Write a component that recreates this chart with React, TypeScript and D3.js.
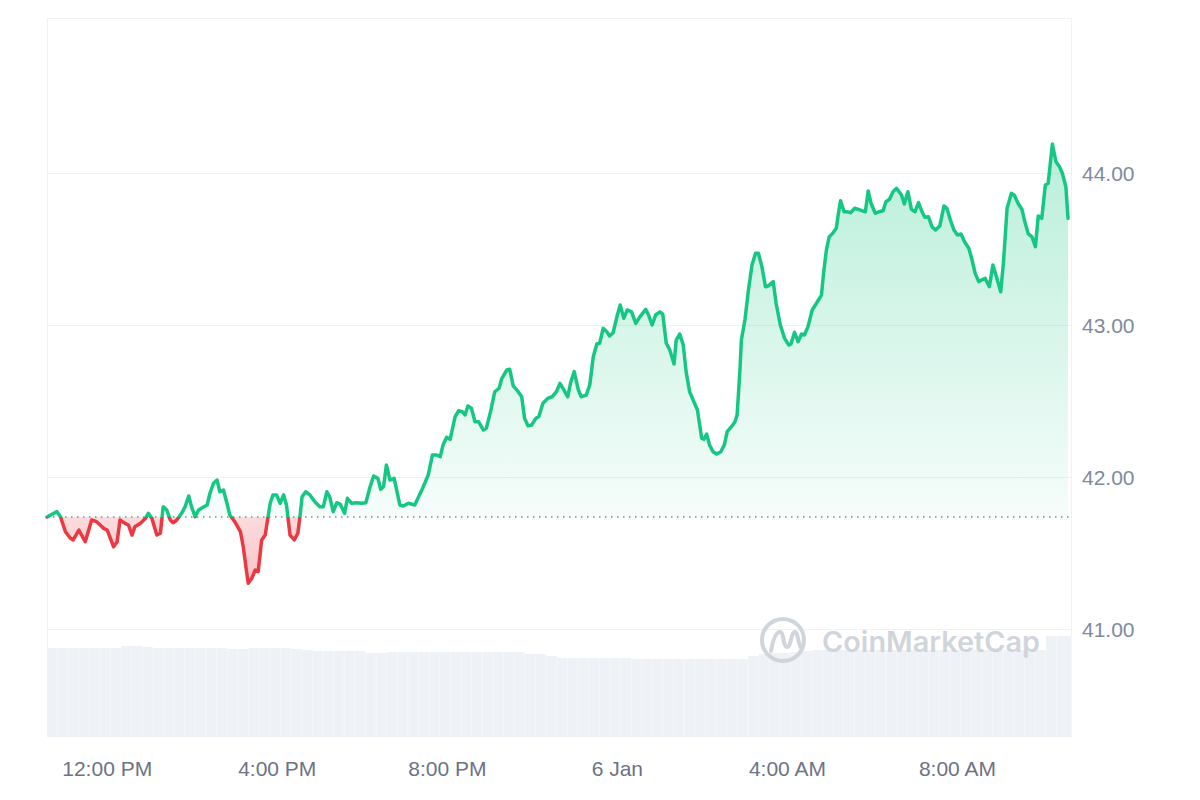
import React from "react";
import * as d3 from "d3";

// Start reference: 12:00 PM, 5 Jan
const START = new Date(2025, 0, 5, 12, 0);

// minutes relative to 12:00 PM
const minuteOffsets = [
  -85,-71,-66,-59,-52,-48,-40,-31,-22,-15,-10,-5,0,9,14,18,25,30,35,39,47,54,58,63,70,75,79,84,89,93,98,105,110,115,119,124,129,134,141,145,150,155,159,164,
  169,173,180,188,192,197,199,204,209,213,218,223,227,230,234,239,244,249,253,258,264,269,272,275,280,286,293,300,305,310,314,319,324,329,335,339,345,352,359,365,371,376,382,386,390,394,399,405,
  413,418,425,434,444,453,459,465,470,474,479,484,491,496,501,505,509,514,519,524,531,535,541,547,553,557,564,568,573,580,585,589,594,599,605,609,615,622,628,634,
  639,643,650,654,659,665,669,676,681,686,691,695,700,705,709,714,720,724,729,734,740,746,752,760,764,769,774,780,784,789,794,800,803,808,813,817,822,828,833,839,842,846,850,855,860,866,871,875,881,886,
  889,893,895,900,905,910,915,919,924,929,933,940,944,950,956,962,965,970,975,980,984,989,995,1001,1008,1011,1015,1019,1024,1029,1032,1035,1040,1044,1049,1055,1060,1065,1070,1074,1078,1084,1089,1095,1099,1104,1109,1114,
  1121,1125,1130,1135,1140,1145,1150,1154,1159,1164,1169,1175,1181,1185,1190,1195,1200,1205,1210,1216,1220,1225,1230,1234,1239,1245,1250,1255,1261,1265,1270,1276,1280,1286,1291,1295,1300,1305,1310,1314,1319,1324,1328,1334,1339,1344,1348,1353,1356,
];

const prices = [
  41.737,41.772,41.739,41.640,41.597,41.586,41.651,41.574,41.717,41.706,41.684,41.662,41.651,41.541,41.574,41.717,41.695,41.684,41.618,41.673,41.695,41.728,41.761,41.728,41.618,41.630,41.805,41.783,41.717,41.699,41.717,41.761,41.805,41.875,41.805,41.739,41.783,41.798,41.816,41.893,41.959,41.980,41.903,41.914,
  41.827,41.750,41.706,41.640,41.541,41.366,41.301,41.334,41.388,41.377,41.586,41.618,41.739,41.827,41.882,41.882,41.827,41.882,41.816,41.618,41.586,41.630,41.739,41.870,41.903,41.882,41.837,41.805,41.805,41.903,41.870,41.772,41.831,41.820,41.761,41.860,41.827,41.831,41.827,41.831,41.936,42.007,41.991,41.919,41.936,42.079,41.980,41.991,
  41.816,41.809,41.827,41.816,41.914,42.013,42.145,42.145,42.134,42.211,42.261,42.248,42.397,42.436,42.430,42.408,42.467,42.452,42.364,42.364,42.309,42.320,42.430,42.561,42.584,42.649,42.704,42.709,42.599,42.561,42.528,42.386,42.336,42.342,42.386,42.397,42.485,42.518,42.528,42.561,
  42.616,42.584,42.528,42.620,42.693,42.572,42.528,42.539,42.605,42.791,42.875,42.880,42.978,42.956,42.928,42.949,43.066,43.132,43.044,43.099,43.087,43.011,43.055,43.103,43.066,43.000,43.066,43.087,43.072,42.880,42.836,42.743,42.901,42.941,42.868,42.693,42.561,42.495,42.441,42.255,42.248,42.283,42.211,42.166,42.151,42.166,42.211,42.298,42.331,42.364,
  42.408,42.704,42.901,43.033,43.230,43.395,43.472,43.472,43.384,43.252,43.257,43.285,43.143,43.000,42.912,42.868,42.875,42.952,42.890,42.941,42.934,42.989,43.099,43.143,43.197,43.340,43.493,43.581,43.603,43.636,43.735,43.818,43.745,43.745,43.739,43.768,43.761,43.752,43.745,43.882,43.801,43.735,43.745,43.752,43.811,43.827,43.877,43.899,
  43.855,43.796,43.877,43.761,43.745,43.805,43.745,43.709,43.712,43.647,43.625,43.651,43.783,43.768,43.691,43.625,43.592,43.599,43.548,43.505,43.439,43.340,43.285,43.296,43.307,43.252,43.395,43.318,43.219,43.416,43.768,43.866,43.855,43.796,43.761,43.680,43.599,43.581,43.515,43.717,43.702,43.921,43.932,44.191,44.074,44.041,43.998,43.910,43.702,
];

// volume bars: one per 15 minutes starting at -85 min (arbitrary units)
const volumeStartMinute = -85;
const volumeStepMinutes = 15;
const volumes = [
  89,89,89,89,89,89,89,91,91,90,89,89,89,89,89,89,89,88,88,89,89,89,89,88,87,86,86,86,86,86,84,84,
  85,85,85,85,85,85,85,85,85,85,85,85,85,83,83,81,79,79,79,79,79,79,79,78,78,78,78,78,78,78,78,78,
  78,78,81,83,84,84,85,86,87,87,87,87,87,87,87,87,87,87,87,87,87,87,87,87,87,87,87,87,87,87,101,101,
];

const yTicks = [41, 42, 43, 44];
const xTickHours = 4;

const FONT = "'Liberation Sans', Arial, sans-serif";

export default function App() {
  const W = 1200;
  const H = 800;
  const plotLeft = 47;
  const plotRight = 1071;
  const plotTop = 18;
  const plotBottom = 737;

  const data = minuteOffsets.map((m, i) => ({
    t: d3.timeMinute.offset(START, m),
    v: prices[i],
  }));

  const x = d3
    .scaleTime()
    .domain(d3.extent(data, (d) => d.t) as [Date, Date])
    .range([47, 1068]);
  const y = d3.scaleLinear().domain([41, 44]).range([629, 173]);
  const vScale = d3.scaleLinear().domain([0, 100]).range([plotBottom, plotBottom - 100]);

  const base = prices[0];
  const by = y(base);

  const line = d3
    .line<{ t: Date; v: number }>()
    .x((d) => x(d.t))
    .y((d) => y(d.v));
  const area = d3
    .area<{ t: Date; v: number }>()
    .x((d) => x(d.t))
    .y0(by)
    .y1((d) => y(d.v));

  const linePath = line(data) || "";
  const areaPath = area(data) || "";

  const xTicks = x.ticks(d3.timeHour.every(xTickHours)!);
  const fmtTick = (d: Date) =>
    d.getHours() === 0 ? d3.timeFormat("%-d %b")(d) : d3.timeFormat("%-I:%M %p")(d);

  const volBars = volumes.map((v, i) => {
    const t0 = d3.timeMinute.offset(START, volumeStartMinute + i * volumeStepMinutes);
    const t1 = d3.timeMinute.offset(START, volumeStartMinute + (i + 1) * volumeStepMinutes);
    const last = i === volumes.length - 1;
    return { x0: x(t0), x1: last ? plotRight + 1 : Math.min(x(t1), plotRight), v };
  });

  const gridColor = "#eff2f5";

  return (
    <svg
      width={W}
      height={H}
      style={{ position: "absolute", left: 0, top: 0, display: "block", background: "#fff" }}
      fontFamily={FONT}
    >
      <defs>
        <linearGradient id="gFill" gradientUnits="userSpaceOnUse" x1="0" y1={y(44.2)} x2="0" y2={by}>
          <stop offset="0" stopColor="#16c784" stopOpacity={0.3} />
          <stop offset="1" stopColor="#16c784" stopOpacity={0.04} />
        </linearGradient>
        <linearGradient id="rFill" gradientUnits="userSpaceOnUse" x1="0" y1={by} x2="0" y2={y(41.3)}>
          <stop offset="0" stopColor="#ea3943" stopOpacity={0.18} />
          <stop offset="1" stopColor="#ea3943" stopOpacity={0.3} />
        </linearGradient>
        <clipPath id="above">
          <rect x={0} y={0} width={W} height={by} />
        </clipPath>
        <clipPath id="below">
          <rect x={0} y={by} width={W} height={H - by} />
        </clipPath>
      </defs>

      {/* frame */}
      <line x1={plotLeft + 0.5} x2={plotLeft + 0.5} y1={plotTop} y2={plotBottom} stroke={gridColor} />
      <line x1={plotRight + 0.5} x2={plotRight + 0.5} y1={plotTop} y2={plotBottom} stroke={gridColor} />
      <line x1={plotLeft} x2={plotRight} y1={plotTop + 0.5} y2={plotTop + 0.5} stroke={gridColor} />

      {/* grid */}
      {yTicks.map((t) => (
        <line key={t} x1={plotLeft} x2={plotRight} y1={Math.round(y(t)) + 0.5} y2={Math.round(y(t)) + 0.5} stroke={gridColor} />
      ))}

      {/* volume */}
      <g>
        {volBars.map((b, i) => (
          <rect
            key={"bg" + i}
            x={b.x0}
            y={vScale(b.v)}
            width={Math.max(0, b.x1 - b.x0)}
            height={plotBottom - vScale(b.v)}
            fill="#f4f6f9"
          />
        ))}
        {volBars.map((b, i) => (
          <rect
            key={i}
            x={b.x0}
            y={vScale(b.v)}
            width={Math.max(0, b.x1 - b.x0 - 1)}
            height={plotBottom - vScale(b.v)}
            fill="#eef1f5"
          />
        ))}
      </g>

      {/* watermark */}
      <g opacity={0.9}>
        <circle cx={783} cy={640} r={21} fill="none" stroke="#ccd1d9" strokeWidth={4} />
        <path
          d="M771,651 C773,640 776,632 780,632 C784,632 783,647 787,647 C791,647 791,632 795,632 C798,632 798,645 802,649"
          fill="none"
          stroke="#ccd1d9"
          strokeWidth={4}
          strokeLinecap="round"
        />
        <text
          x={822}
          y={652}
          fontSize={28}
          fontWeight={600}
          fontFamily="Inter, 'Noto Sans', sans-serif"
          fill="#ccd1d9"
          textLength={218}
          lengthAdjust="spacingAndGlyphs"
        >
          CoinMarketCap
        </text>
      </g>

      {/* areas */}
      <path d={areaPath} fill="url(#gFill)" clipPath="url(#above)" />
      <path d={areaPath} fill="url(#rFill)" clipPath="url(#below)" />

      {/* baseline */}
      <line
        x1={plotLeft}
        x2={plotRight}
        y1={by}
        y2={by}
        stroke="#808a9d"
        strokeWidth={1.5}
        strokeDasharray="1.5,4.5"
      />

      {/* lines */}
      <path d={linePath} fill="none" stroke="#16c784" strokeWidth={3.5} strokeLinejoin="round" strokeLinecap="round" clipPath="url(#above)" />
      <path d={linePath} fill="none" stroke="#ea3943" strokeWidth={3.5} strokeLinejoin="round" strokeLinecap="round" clipPath="url(#below)" />

      {/* y axis labels */}
      {yTicks.map((t) => (
        <text key={t} x={1082} y={y(t) + 7.5} fontSize={21} fill="#808a9d">
          {t.toFixed(2)}
        </text>
      ))}

      {/* x axis labels */}
      {xTicks.map((t) => (
        <text key={+t} x={x(t)} y={776} fontSize={21} fill="#6b7385" textAnchor="middle">
          {fmtTick(t)}
        </text>
      ))}
    </svg>
  );
}
